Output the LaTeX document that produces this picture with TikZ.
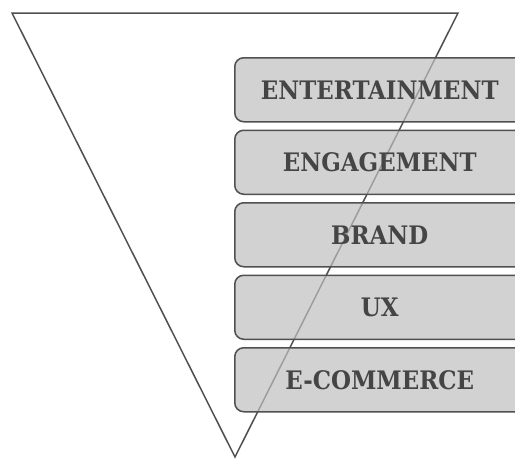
\documentclass[tikz,border=0pt]{standalone}
\usepackage{fontspec}
\setmainfont{DejaVu Serif}
\newfontfamily\boxfont{DejaVu Serif Condensed}
\usetikzlibrary{positioning}

\definecolor{edge}{HTML}{505050}
\definecolor{ink}{HTML}{454545}

\begin{document}
\begin{tikzpicture}[
    x=1pt, y=-1pt,
    node distance=7pt,
    box/.style={rectangle, draw=edge, line width=1.5pt, rounded corners=9pt,
      fill=black!25, fill opacity=0.7, text opacity=1, text=ink,
      minimum width=290pt, minimum height=64pt, inner sep=0pt,
      font=\boxfont\fontsize{25.5}{30}\selectfont\bfseries}
  ]
    \useasboundingbox (0,0) rectangle (515,459);
    \clip (0,0) rectangle (515,459);

    % funnel behind the stack
    \draw[edge, line width=1.5pt, line join=miter] (12,13) -- (458,13) -- (235,457) -- cycle;

    \node[box, anchor=north west] (ent) at (234,57) {ENTERTAINMENT};
    \node[box, below=of ent] (eng) {ENGAGEMENT};
    \node[box, below=of eng] (brand) {BRAND};
    \node[box, below=of brand] (ux) {UX};
    \node[box, below=of ux] (ecom) {E-COMMERCE};
\end{tikzpicture}
\end{document}
